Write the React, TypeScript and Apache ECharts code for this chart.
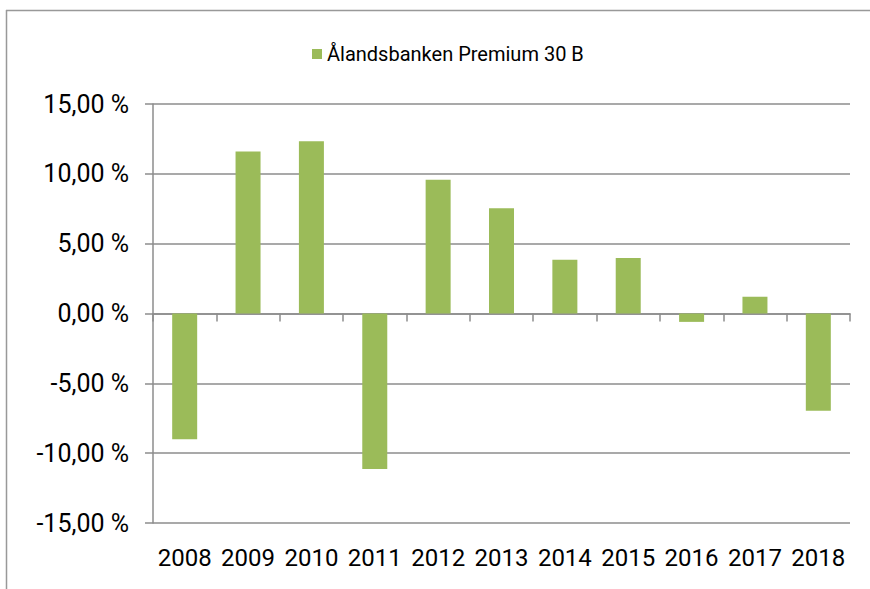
import React, { useEffect, useRef } from "react";
import * as echarts from "echarts";

const categories = ["2008", "2009", "2010", "2011", "2012", "2013", "2014", "2015", "2016", "2017", "2018"];
const values = [-9.01, 11.6, 12.34, -11.14, 9.57, 7.54, 3.85, 3.97, -0.6, 1.2, -6.96];
const seriesName = "Ålandsbanken Premium 30 B";
const yMin = -15;
const yMax = 15;
const yInterval = 5;

export default function App() {
  const ref = useRef<HTMLDivElement>(null);
  useEffect(() => {
    if (!ref.current) return;
    const chart = echarts.init(ref.current, null, { renderer: "svg" });
    const gray = "#8c8c8c";
    const font = "Roboto";
    chart.setOption({
      animation: false,
      backgroundColor: "#ffffff",
      textStyle: { fontFamily: font },
      grid: { left: 153, right: 20, top: 104, bottom: 66, containLabel: false },
      legend: {
        data: [seriesName],
        left: 307,
        top: 39,
        itemWidth: 10,
        itemHeight: 10,
        icon: "rect",
        itemGap: 6,
        textStyle: { fontSize: 20, color: "#000", fontFamily: font },
      },
      xAxis: [
        {
          type: "category",
          data: categories,
          axisLine: { onZero: true, lineStyle: { color: gray, width: 1.5 } },
          axisTick: { show: true, length: 8, alignWithLabel: false, lineStyle: { color: gray, width: 1.5 } },
          axisLabel: { show: false },
          splitLine: { show: false },
        },
        {
          type: "category",
          data: categories,
          position: "bottom",
          axisLine: { show: false, onZero: false },
          axisTick: { show: false },
          axisLabel: { show: true, interval: 0, fontSize: 24, color: "#000", margin: 23, fontFamily: font },
          splitLine: { show: false },
        },
      ],
      yAxis: {
        type: "value",
        min: yMin,
        max: yMax,
        interval: yInterval,
        axisLine: { show: true, lineStyle: { color: gray, width: 1.5 } },
        axisTick: { show: true, length: 8, lineStyle: { color: gray, width: 1.5 } },
        axisLabel: {
          fontSize: 25,
          color: "#000",
          margin: 24,
          fontFamily: font,
          formatter: (v: number) => v.toFixed(2).replace(".", ",") + " %",
        },
        splitLine: { show: true, lineStyle: { color: gray, width: 1.5 } },
      },
      series: [
        {
          name: seriesName,
          type: "bar",
          xAxisIndex: 0,
          data: values,
          barWidth: 25,
          itemStyle: { color: "#9BBB59" },
        },
      ],
      graphic: [
        { type: "line", shape: { x1: 6, y1: 10.5, x2: 870, y2: 10.5 }, style: { stroke: "#999", lineWidth: 1.5 } },
        { type: "line", shape: { x1: 6.5, y1: 10, x2: 6.5, y2: 589 }, style: { stroke: "#999", lineWidth: 1.5 } },
      ],
    });
    return () => chart.dispose();
  }, []);
  return <div ref={ref} style={{ position: "fixed", left: 0, top: 0, width: 870, height: 589 }} />;
}
